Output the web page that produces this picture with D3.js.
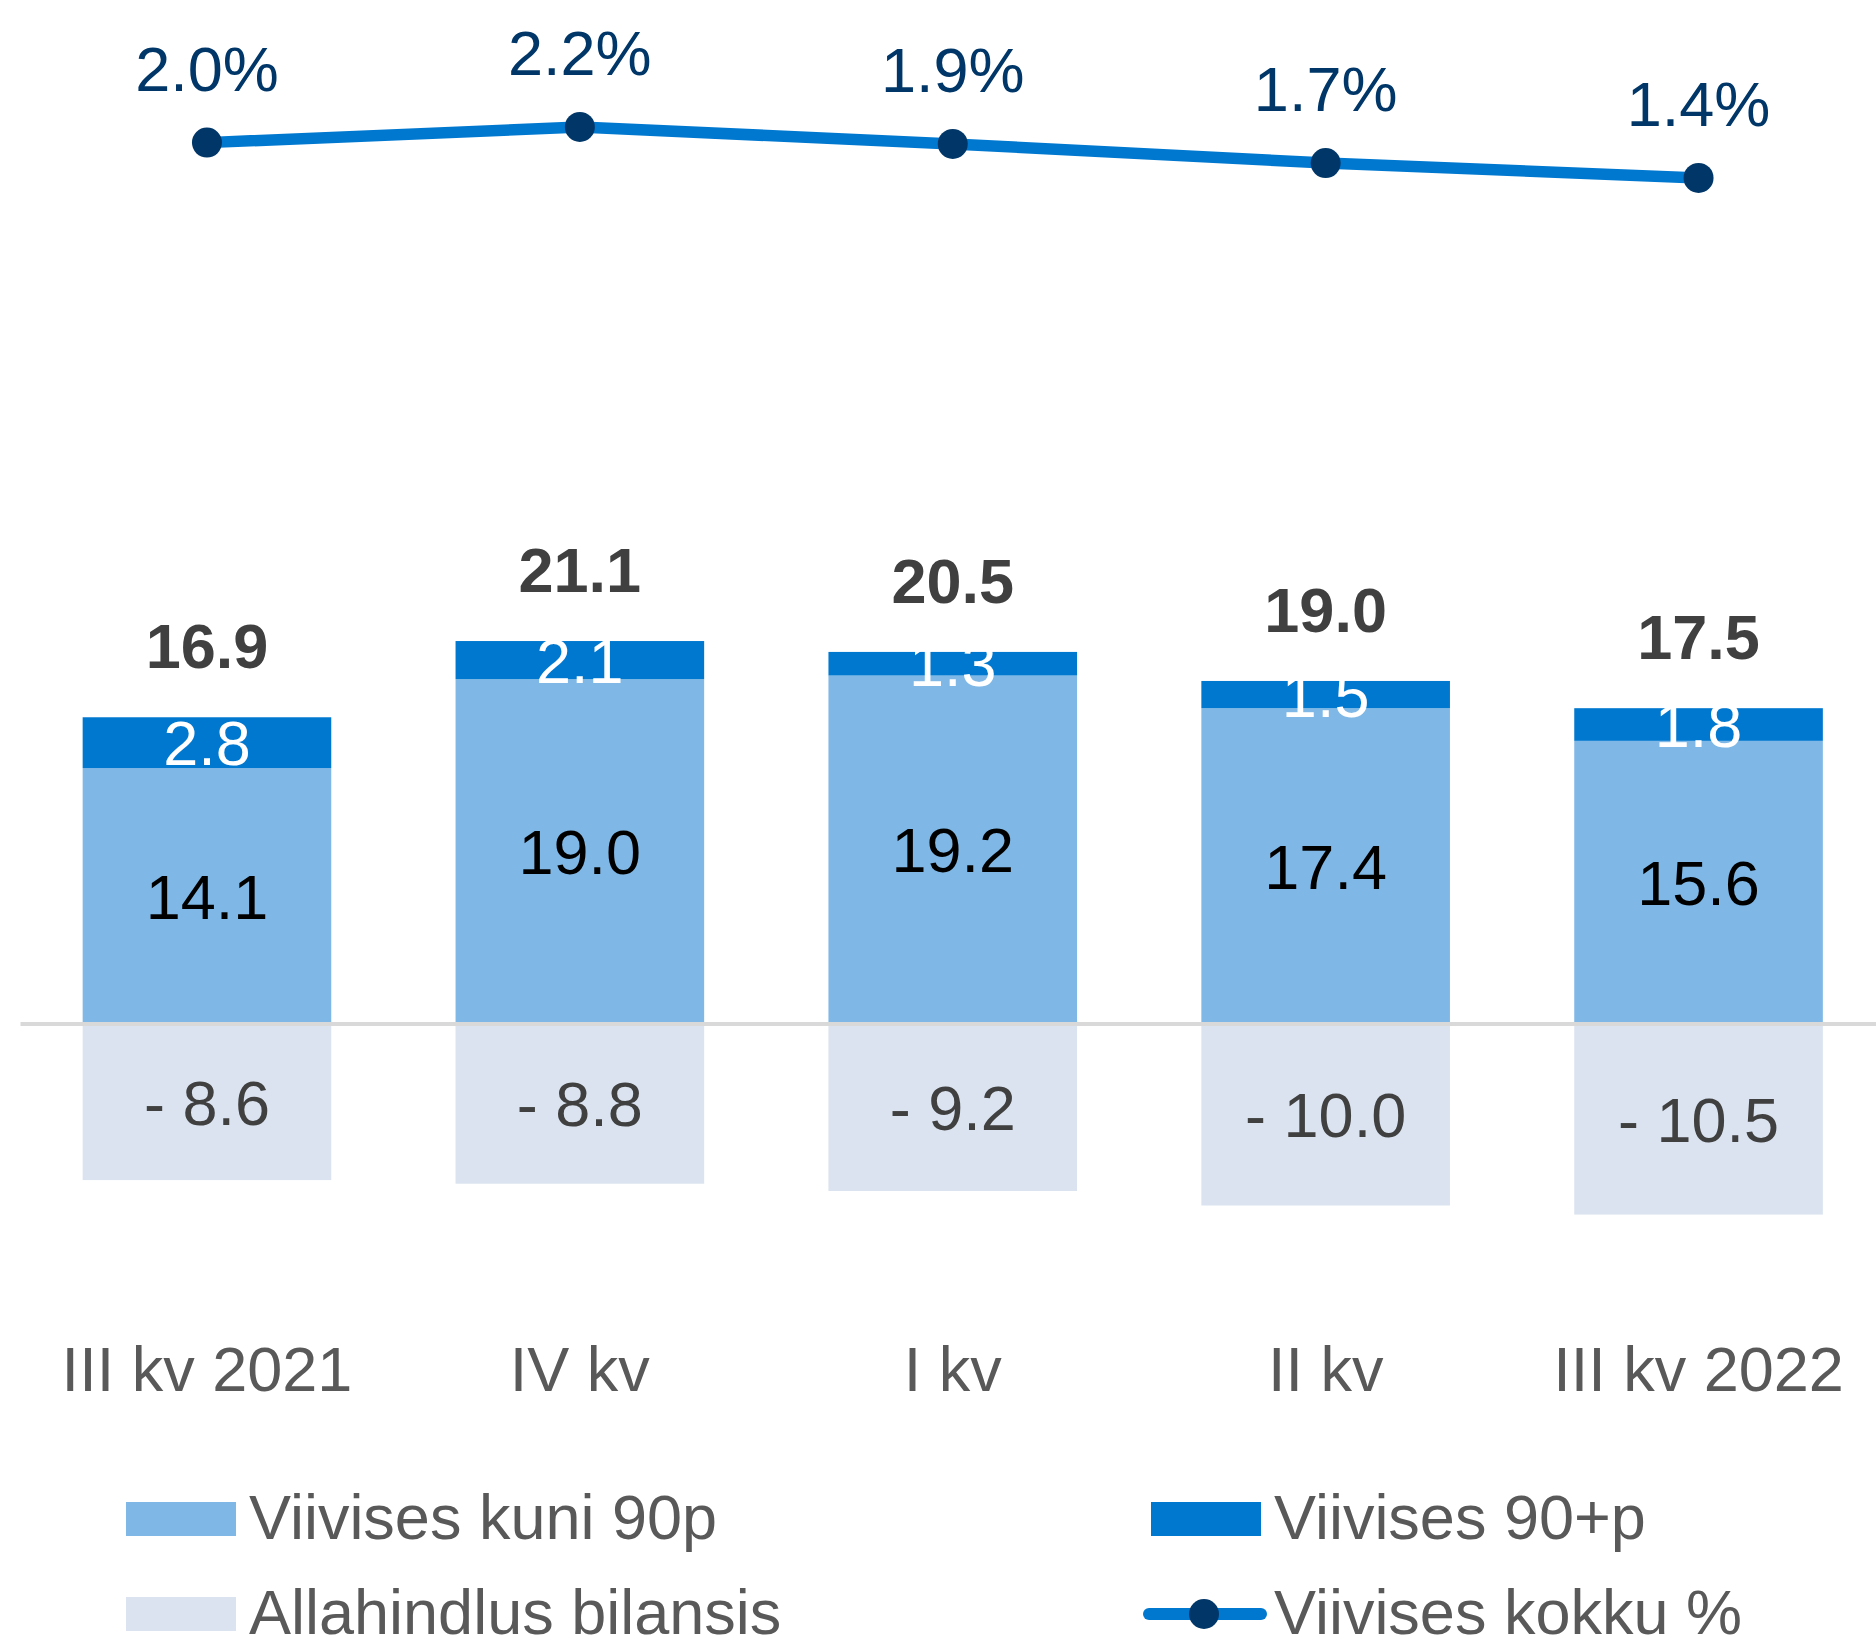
<!DOCTYPE html>
<html>
<head>
<meta charset="utf-8">
<script src="https://cdn.jsdelivr.net/npm/d3@7"></script>
<style>
  body { margin: 0; background: #fff; }
  svg { display: block; font-family: "Liberation Sans", Arial, sans-serif; }
</style>
</head>
<body>
<svg></svg>
<script>
// categories on the x axis
let quarters = ['III kv 2021', 'IV kv', 'I kv', 'II kv', 'III kv 2022'];

// stacked bar parts (mln)
let kuni90 = [14.1, 19.0, 19.2, 17.4, 15.6];
let yle90 = [2.8, 2.1, 1.3, 1.5, 1.8];
// totals as printed above the bars
let totals = [16.9, 21.1, 20.5, 19.0, 17.5];
// negative bars
let allahindlus = [-8.6, -8.8, -9.2, -10.0, -10.5];
// line series, percent
let kokkuPct = [1.96, 2.19, 1.94, 1.66, 1.44];

let seriesNames = ['Viivises kuni 90p', 'Viivises 90+p', 'Allahindlus bilansis', 'Viivises kokku %'];

let width = 1876;
let height = 1643;

let colLight = '#7fb8e6';
let colBlue = '#0078d0';
let colPale = '#dae3ef';
let colNavy = '#003768';
let textGrey = '#595959';
let fontSize = 63;

let svg = d3.select('svg').attr('width', width).attr('height', height);

// scales
let xScale = d3.scaleBand()
  .domain(quarters)
  .range([20.5, 1885])
  .paddingInner(1 / 3)
  .paddingOuter(1 / 6);

let yScale = d3.scaleLinear()
  .domain([-15, 25])
  .range([1024 + 15 * 18.15, 1024 - 25 * 18.15]);

let yLine = d3.scaleLinear()
  .domain([0, 2.5])
  .range([275.9, 105.9]);

let bw = xScale.bandwidth();
let cx = (i) => xScale(quarters[i]) + bw / 2;

let rows = quarters.map((q, i) => ({
  q: q, i: i, kuni: kuni90[i], yle: yle90[i], total: totals[i], neg: allahindlus[i], pct: kokkuPct[i]
}));

// bars
let bars = svg.append('g');
bars.selectAll('.neg').data(rows).enter().append('rect')
  .attr('x', d => xScale(d.q)).attr('width', bw)
  .attr('y', yScale(0)).attr('height', d => yScale(d.neg) - yScale(0))
  .attr('fill', colPale);
bars.selectAll('.kuni').data(rows).enter().append('rect')
  .attr('x', d => xScale(d.q)).attr('width', bw)
  .attr('y', d => yScale(d.kuni)).attr('height', d => yScale(0) - yScale(d.kuni))
  .attr('fill', colLight);
bars.selectAll('.yle').data(rows).enter().append('rect')
  .attr('x', d => xScale(d.q)).attr('width', bw)
  .attr('y', d => yScale(d.kuni + d.yle)).attr('height', d => yScale(d.kuni) - yScale(d.kuni + d.yle))
  .attr('fill', colBlue);

// zero line
svg.append('line')
  .attr('x1', xScale.range()[0]).attr('x2', width)
  .attr('y1', yScale(0)).attr('y2', yScale(0))
  .attr('stroke', '#d9d9d9').attr('stroke-width', 4);

// bar labels, centred in their segments
let capMid = fontSize * 0.358;
let labels = svg.append('g').attr('text-anchor', 'middle').attr('font-size', fontSize);
labels.selectAll('.lk').data(rows).enter().append('text')
  .attr('x', d => cx(d.i)).attr('y', d => (yScale(0) + yScale(d.kuni)) / 2 + capMid)
  .attr('fill', '#000').text(d => d.kuni.toFixed(1));
labels.selectAll('.ly').data(rows).enter().append('text')
  .attr('x', d => cx(d.i)).attr('y', d => (yScale(d.kuni) + yScale(d.kuni + d.yle)) / 2 + capMid)
  .attr('fill', '#fff').text(d => d.yle.toFixed(1));
labels.selectAll('.ln').data(rows).enter().append('text')
  .attr('x', d => cx(d.i)).attr('y', d => (yScale(0) + yScale(d.neg)) / 2 + capMid)
  .attr('fill', '#404040').text(d => '- ' + Math.abs(d.neg).toFixed(1));
labels.selectAll('.lt').data(rows).enter().append('text')
  .attr('x', d => cx(d.i)).attr('y', d => yScale(d.kuni + d.yle) - 49)
  .attr('fill', '#404040').attr('font-weight', 'bold').text(d => d.total.toFixed(1));

// line series
let line = d3.line().x(d => cx(d.i)).y(d => yLine(d.pct));
svg.append('path').datum(rows)
  .attr('d', line).attr('fill', 'none')
  .attr('stroke', colBlue).attr('stroke-width', 11.5).attr('stroke-linejoin', 'round');
svg.selectAll('.dot').data(rows).enter().append('circle')
  .attr('cx', d => cx(d.i)).attr('cy', d => yLine(d.pct)).attr('r', 15)
  .attr('fill', colNavy);
svg.append('g').attr('text-anchor', 'middle').attr('font-size', fontSize)
  .selectAll('text').data(rows).enter().append('text')
  .attr('x', d => cx(d.i)).attr('y', d => yLine(d.pct) - 52)
  .attr('fill', colNavy).text(d => d.pct.toFixed(1) + '%');

// x axis
let xAxis = d3.axisBottom(xScale).tickSize(0).tickPadding(0);
let gx = svg.append('g').attr('transform', 'translate(0,1391)').call(xAxis);
gx.select('.domain').remove();
gx.selectAll('text')
  .attr('y', 0).attr('dy', 0)
  .attr('font-size', fontSize).attr('font-family', '"Liberation Sans", Arial, sans-serif')
  .attr('fill', textGrey);

// legend
let legendCols = [126, 1151];
let legendBase = [1539, 1634];
let legend = svg.append('g').attr('font-size', fontSize).attr('fill', textGrey);
let legendItems = [
  { name: seriesNames[0], kind: 'box', color: colLight, c: 0, r: 0 },
  { name: seriesNames[1], kind: 'box', color: colBlue, c: 1, r: 0 },
  { name: seriesNames[2], kind: 'box', color: colPale, c: 0, r: 1 },
  { name: seriesNames[3], kind: 'line', color: colBlue, c: 1, r: 1 }
];
legendItems.forEach(it => {
  let x0 = legendCols[it.c];
  let mid = legendBase[it.r] - 20;
  if (it.kind === 'box') {
    legend.append('rect').attr('x', x0).attr('y', mid - 17).attr('width', 110).attr('height', 34)
      .attr('fill', it.color);
  } else {
    legend.append('line').attr('x1', x0 - 2).attr('x2', x0 + 110).attr('y1', mid).attr('y2', mid)
      .attr('stroke', it.color).attr('stroke-width', 12).attr('stroke-linecap', 'round');
    legend.append('circle').attr('cx', x0 + 53).attr('cy', mid).attr('r', 15).attr('fill', colNavy);
  }
  legend.append('text').attr('x', x0 + 123).attr('y', legendBase[it.r]).text(it.name);
});
</script>
</body>
</html>
